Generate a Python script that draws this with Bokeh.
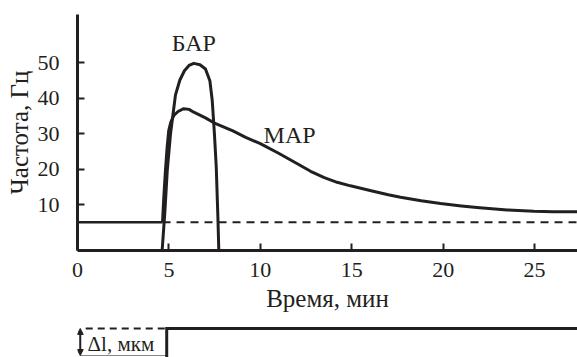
from bokeh.plotting import figure
from bokeh.layouts import column
from bokeh.models import Range1d, FixedTicker, Label, Arrow, NormalHead
from bokeh.embed import file_html
from bokeh.resources import INLINE

# ---------------- data ----------------
# БАР curve (time, min ; frequency, Hz)
bar_x = [4.63, 4.78, 4.91, 5.09, 5.36, 5.6, 5.85, 6.1, 6.36, 6.7, 7.0, 7.24, 7.37, 7.49, 7.59, 7.68, 7.73]
bar_y = [-3.0, 8.0, 19.6, 30.1, 41.0, 45.2, 47.8, 49.3, 49.9, 49.5, 48.3, 45.0, 39.4, 30.0, 20.6, 6.4, -3.0]

# МАР curve
map_x = [4.65, 4.72, 4.81, 4.9, 4.99, 5.1, 5.27, 5.5, 5.81, 6.1, 6.36, 7.0, 7.46, 8.5, 9.2, 10.0,
         11.0, 12.0, 12.75, 13.5, 14.2, 14.93, 16.0, 17.0, 17.67, 18.8, 19.86, 21.0, 22.0, 23.5,
         24.96, 26.0, 27.4]
map_y = [5.0, 12.0, 19.6, 26.0, 30.9, 33.2, 35.2, 36.3, 37.1, 36.9, 36.1, 34.5, 33.1, 30.8, 29.0, 27.2,
         24.5, 21.6, 19.4, 17.6, 16.3, 15.3, 14.0, 12.8, 12.1, 11.1, 10.3, 9.6, 9.1, 8.5,
         8.1, 8.0, 7.95]

# baseline frequency (solid before stimulus, dashed after)
base_solid_x = [0.0, 4.65]
base_solid_y = [5.0, 5.0]
base_dash_x = [4.65, 27.4]
base_dash_y = [5.0, 5.0]

# stretch (Δl) step
step_time = 4.88
step_low = 0.0
step_high = 1.0
step_end = 27.4
marker_time = 0.15   # the Δl double arrow sits at the time origin

x_ticks = [0, 5, 10, 15, 20, 25]
y_ticks = [10, 20, 30, 40, 50]

# ---------------- styles ----------------
FONT = "Liberation Serif"
INK = "#231f20"
LW = 3

p = figure(width=577, height=322,
           x_range=Range1d(0, 27.35), y_range=Range1d(-2.97, 63.7),
           output_backend="svg", toolbar_location=None,
           min_border_left=77, min_border_right=0, min_border_top=14, min_border_bottom=72)
p.outline_line_color = None
p.grid.visible = False

p.line(base_solid_x, base_solid_y, line_color=INK, line_width=2.5)
p.line(base_dash_x, base_dash_y, line_color=INK, line_width=2, line_dash="8 6")
p.line(map_x, map_y, line_color=INK, line_width=LW, line_join="round")
p.line(bar_x, bar_y, line_color=INK, line_width=LW, line_join="round")

# labels of curves
i_peak = bar_y.index(max(bar_y))
p.add_layout(Label(x=bar_x[i_peak], y=max(bar_y) + 2.2, text="БАР", text_align="center",
                   text_baseline="bottom", text_font=FONT, text_font_size="24px", text_color=INK))
p.add_layout(Label(x=11.6, y=29.7, text="МАР", text_align="center", text_baseline="middle",
                   text_font=FONT, text_font_size="24px", text_color=INK))

for ax in (p.xaxis[0], p.yaxis[0]):
    ax.axis_line_width = LW
    ax.axis_line_color = INK
    ax.major_tick_line_width = 2
    ax.major_tick_line_color = INK
    ax.major_tick_in = 7
    ax.major_tick_out = 0
    ax.minor_tick_line_color = None
    ax.major_label_text_font = FONT
    ax.major_label_text_font_size = "22px"
    ax.major_label_text_color = INK
    ax.axis_label_text_font = FONT
    ax.axis_label_text_font_size = "25px"
    ax.axis_label_text_font_style = "normal"
    ax.axis_label_text_color = INK

p.xaxis.ticker = FixedTicker(ticks=x_ticks)
p.yaxis.ticker = FixedTicker(ticks=y_ticks)
p.xaxis.axis_label = "Время, мин"
p.yaxis.axis_label = "Частота, Гц"
p.xaxis.major_label_standoff = 12
p.xaxis.axis_label_standoff = 5
p.yaxis.major_label_standoff = 18
p.yaxis.axis_label_standoff = 2

# ---------------- stretch panel (frame aligned with the chart above) ----------------
p2 = figure(width=577, height=35,
            x_range=p.x_range, y_range=Range1d(-0.074, 1.222),
            x_axis_type=None, y_axis_type=None,
            output_backend="svg", toolbar_location=None,
            min_border_left=77, min_border_right=0, min_border_top=0, min_border_bottom=0)
p2.grid.visible = False
p2.outline_line_color = None

p2.line([0.45, step_time], [step_high, step_high], line_color=INK, line_width=2, line_dash="7 5")
p2.line([marker_time, step_time], [step_low, step_low], line_color="#888888", line_width=1)
p2.line([step_time, step_time, step_end], [step_low - 0.2, step_high, step_high],
        line_color=INK, line_width=LW, line_join="miter")
p2.add_layout(Arrow(x_start=marker_time, y_start=step_low, x_end=marker_time, y_end=step_high,
                    line_color=INK, line_width=2,
                    start=NormalHead(size=6, fill_color=INK, line_color=INK),
                    end=NormalHead(size=6, fill_color=INK, line_color=INK)))
p2.add_layout(Label(x=0.55, y=step_low + 0.44 * (step_high - step_low), text="Δl, мкм",
                    text_baseline="middle",
                    text_font=FONT, text_font_size="21px", text_color=INK))

layout = column(p, p2, spacing=0)
open("out.html", "w").write(file_html(layout, INLINE))
